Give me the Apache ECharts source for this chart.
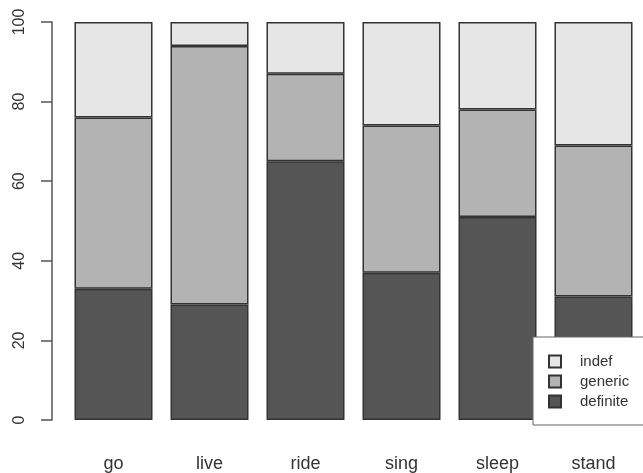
<!DOCTYPE html>
<html>
<head>
<meta charset="utf-8">
<script src="https://cdn.jsdelivr.net/npm/echarts@6/dist/echarts.min.js"></script>
<style>html,body{margin:0;padding:0;background:#fff}#c{width:643px;height:473px}</style>
</head>
<body>
<div id="c"></div>
<script>
var categories = ['go', 'live', 'ride', 'sing', 'sleep', 'stand'];
var definite = [33, 29, 65, 37, 51, 31];
var generic = [43, 65, 22, 37, 27, 38];
var indef = [24, 6, 13, 26, 22, 31];
var yTicks = [0, 20, 40, 60, 80, 100];

var chart = echarts.init(document.getElementById('c'), null, {renderer: 'canvas'});
var FONT = 'Liberation Sans, Arial, sans-serif';
function barSeries(name, data, color) {
  return {
    name: name, type: 'bar', stack: 'all', data: data, barWidth: 78,
    itemStyle: {color: color, borderColor: '#333', borderWidth: 1.5},
    emphasis: {disabled: true}
  };
}
chart.setOption({
  animation: false,
  backgroundColor: '#fff',
  grid: {left: 65.5, right: 1.5, top: 22, bottom: 50, containLabel: false},
  xAxis: {
    type: 'category', data: categories, boundaryGap: true,
    axisLine: {show: false}, axisTick: {show: false},
    axisLabel: {color: '#333', fontSize: 18, fontFamily: FONT, margin: 35}
  },
  yAxis: {
    type: 'value', min: 0, max: 100, interval: 20, offset: 13.5,
    splitLine: {show: false},
    axisLine: {show: true, lineStyle: {color: '#555', width: 1.5}},
    axisTick: {show: true, inside: false, length: 11, lineStyle: {color: '#555', width: 1.5}},
    axisLabel: {color: '#333', fontSize: 16, fontFamily: FONT, rotate: 90, margin: 24,
      formatter: function (v) { return yTicks.indexOf(v) >= 0 ? String(v) : ''; }}
  },
  legend: {
    orient: 'vertical', left: 533, top: 337,
    data: ['indef', 'generic', 'definite'],
    backgroundColor: '#fff', borderColor: '#666', borderWidth: 1,
    padding: [17, 40, 16, 15],
    itemWidth: 12, itemHeight: 12, itemGap: 5,
    icon: 'rect',
    selectedMode: false,
    textStyle: {color: '#333', fontSize: 15, fontFamily: FONT, padding: [0, 0, 0, 14]}
  },
  series: [
    barSeries('definite', definite, '#555555'),
    barSeries('generic', generic, '#b3b3b3'),
    barSeries('indef', indef, '#e6e6e6')
  ]
});
</script>
</body>
</html>
